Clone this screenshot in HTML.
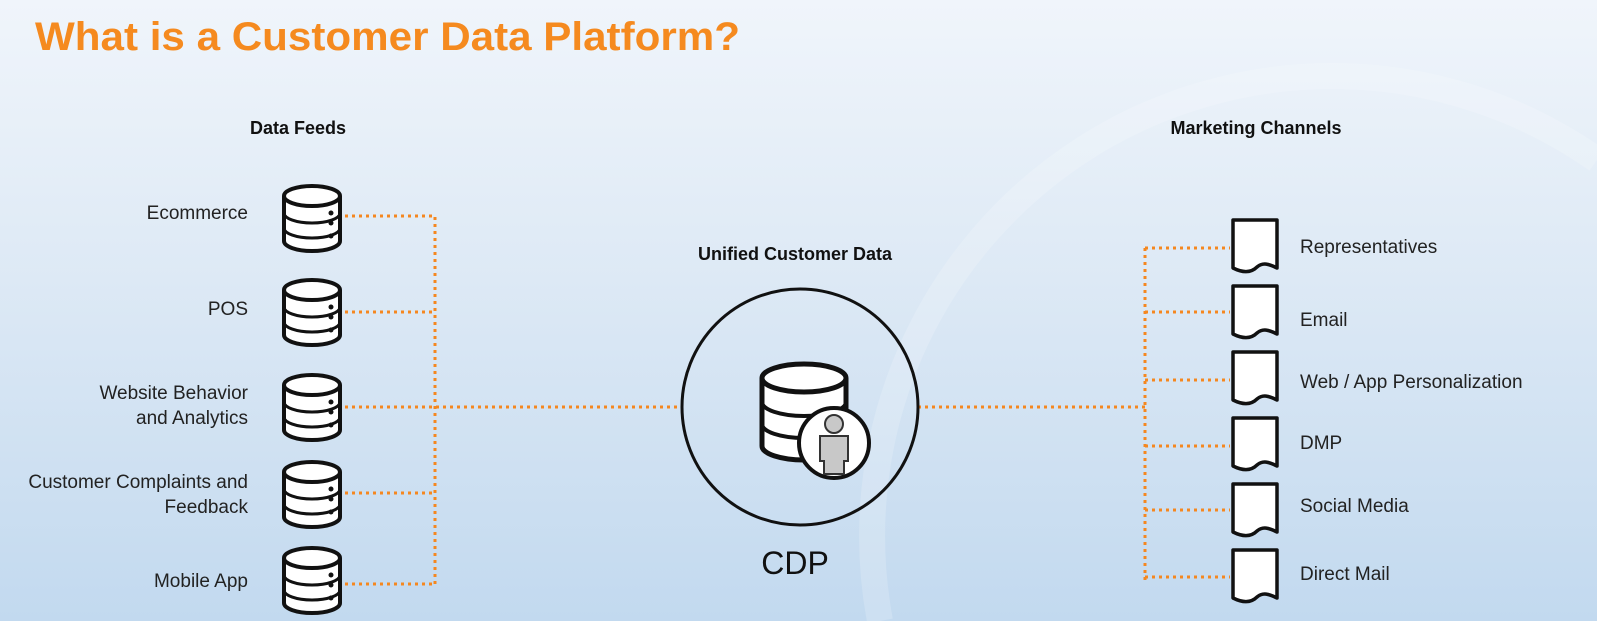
<!DOCTYPE html>
<html><head><meta charset="utf-8"><style>
html,body{margin:0;padding:0;width:1597px;height:621px;overflow:hidden}
#wrap{position:relative;width:1597px;height:621px;overflow:hidden;background:linear-gradient(180deg,#f0f5fb 0%,#dde9f5 45%,#c2d9ef 100%);font-family:"Liberation Sans",sans-serif}
svg{display:block;position:absolute;left:0;top:0;overflow:hidden}
</style></head><body><div id="wrap">
<svg width="1597" height="621" viewBox="0 0 1597 621" xmlns="http://www.w3.org/2000/svg">
<defs>
<g id="db">
 <path d="M0,10 L0,55 A28,10 0 0 0 56,55 L56,10" fill="#fff" stroke="#111" stroke-width="4"/>
 <ellipse cx="28" cy="10" rx="28" ry="10" fill="#fff" stroke="#111" stroke-width="4"/>
 <path d="M0,27 A28,10 0 0 0 56,27 M0,42 A28,10 0 0 0 56,42" fill="none" stroke="#111" stroke-width="3"/>
 <circle cx="47" cy="27" r="2.5" fill="#111"/><circle cx="47" cy="37" r="2.5" fill="#111"/><circle cx="47" cy="50" r="2.5" fill="#111"/>
</g>
<g id="doc">
 <path d="M0,0 L44,0 L44,48 C36,44 30,42 24,47 C18,53 10,53 0,48 Z" fill="#fff" stroke="#111" stroke-width="3.5" stroke-linejoin="round"/>
</g>
</defs>
<path d="M880,621 A460,460 0 0 1 1597,160" fill="none" stroke="#ffffff" stroke-opacity="0.18" stroke-width="26"/>
<text x="35" y="50" font-size="40" font-weight="bold" fill="#f58a1f" textLength="705" lengthAdjust="spacingAndGlyphs">What is a Customer Data Platform?</text>
<text x="298" y="134" font-size="18" font-weight="bold" text-anchor="middle" fill="#111">Data Feeds</text>
<text x="1256" y="134" font-size="18" font-weight="bold" text-anchor="middle" fill="#111">Marketing Channels</text>
<text x="795" y="260" font-size="18" font-weight="bold" text-anchor="middle" fill="#111">Unified Customer Data</text>
<g stroke="#f5871f" stroke-width="3" stroke-dasharray="3,4" fill="none">
 <path d="M345,216 H435 V584 M345,312 H435 M345,407 H678 M345,493 H435 M345,584 H435"/>
 <path d="M918,407 H1145 M1145,248 V580 M1145,248 H1230 M1145,312 H1230 M1145,380 H1230 M1145,446 H1230 M1145,510 H1230 M1145,577 H1230"/>
</g>
<use href="#db" x="284" y="186"/>
<use href="#db" x="284" y="280"/>
<use href="#db" x="284" y="375"/>
<use href="#db" x="284" y="462"/>
<use href="#db" x="284" y="548"/>
<g font-size="19" fill="#222" text-anchor="end">
 <text x="248" y="219">Ecommerce</text>
 <text x="248" y="315">POS</text>
 <text x="248" y="399">Website Behavior</text>
 <text x="248" y="424">and Analytics</text>
 <text x="248" y="488">Customer Complaints and</text>
 <text x="248" y="513">Feedback</text>
 <text x="248" y="587">Mobile App</text>
</g>
<circle cx="800" cy="407" r="118" fill="none" stroke="#111" stroke-width="3"/>
<g transform="translate(762,364)">
 <path d="M0,14 L0,82 A42,14 0 0 0 84,82 L84,14" fill="#fff" stroke="#111" stroke-width="5"/>
 <ellipse cx="42" cy="14" rx="42" ry="14" fill="#fff" stroke="#111" stroke-width="5"/>
 <path d="M0,38 A42,14 0 0 0 84,38 M0,60 A42,14 0 0 0 84,60" fill="none" stroke="#111" stroke-width="4"/>
</g>
<circle cx="834" cy="443" r="35" fill="#fff" stroke="#111" stroke-width="4"/>
<circle cx="834" cy="424" r="9" fill="#c8c8c8" stroke="#333" stroke-width="2"/>
<path d="M820,436 H848 V461 H844 V474 H824 V461 H820 Z" fill="#c8c8c8" stroke="#333" stroke-width="2"/>
<text x="795" y="574" font-size="32" text-anchor="middle" fill="#111">CDP</text>
<use href="#doc" x="1233" y="220"/>
<use href="#doc" x="1233" y="286"/>
<use href="#doc" x="1233" y="352"/>
<use href="#doc" x="1233" y="418"/>
<use href="#doc" x="1233" y="484"/>
<use href="#doc" x="1233" y="550"/>
<g font-size="19" fill="#222">
 <text x="1300" y="253">Representatives</text>
 <text x="1300" y="326">Email</text>
 <text x="1300" y="388">Web / App Personalization</text>
 <text x="1300" y="449">DMP</text>
 <text x="1300" y="512">Social Media</text>
 <text x="1300" y="580">Direct Mail</text>
</g>
</svg>
</div></body></html>
